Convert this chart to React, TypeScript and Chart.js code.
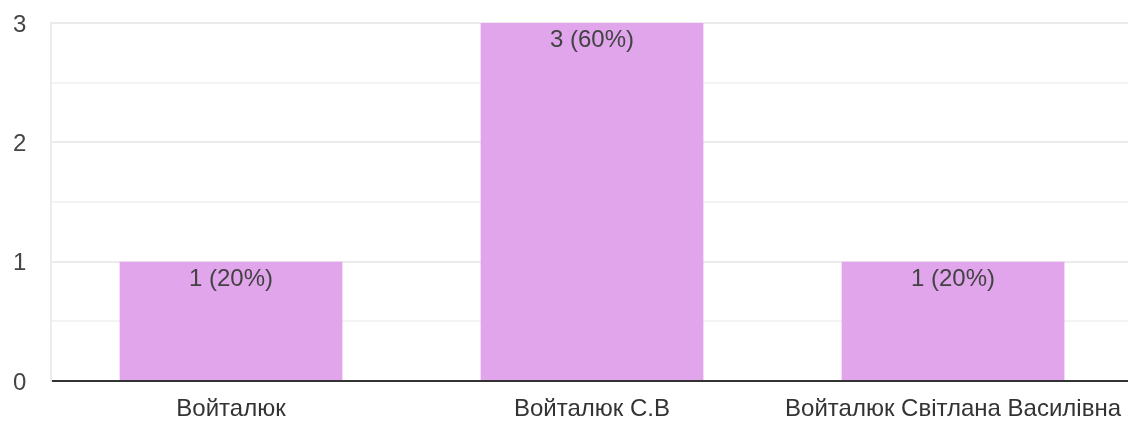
import React, { useEffect, useRef } from "react";
import { Chart, registerables } from "chart.js";

Chart.register(...registerables);

const categories = ["Войталюк", "Войталюк С.В", "Войталюк Світлана Василівна"];
const counts = [1, 3, 1];
const yTickValues = [0, 1, 2, 3];

const FONT = "Arial, 'Liberation Sans', sans-serif";

const barLabelPlugin = {
  id: "barLabels",
  afterDatasetsDraw(chart: any) {
    const ctx = chart.ctx;
    const meta = chart.getDatasetMeta(0);
    const data = chart.data.datasets[0].data as number[];
    const total = data.reduce((a, b) => a + b, 0);
    ctx.save();
    ctx.font = `24px ${FONT}`;
    ctx.fillStyle = "#424242";
    ctx.textAlign = "center";
    ctx.textBaseline = "alphabetic";
    meta.data.forEach((bar: any, i: number) => {
      const v = data[i];
      const pct = Math.round((v / total) * 100);
      ctx.fillText(`${v} (${pct}%)`, bar.x, bar.y + 24);
    });
    ctx.restore();
  },
};

export default function App() {
  const ref = useRef<HTMLCanvasElement>(null);
  useEffect(() => {
    if (!ref.current) return;
    const chart = new Chart(ref.current, {
      type: "bar",
      data: {
        labels: categories,
        datasets: [
          {
            data: counts,
            backgroundColor: "#e1a5eb",
            borderWidth: 0,
            categoryPercentage: 1,
            barPercentage: 0.617,
          },
        ],
      },
      options: {
        responsive: false,
        animation: false,
        layout: { padding: { left: 13, top: 23, right: 0, bottom: 0 } },
        plugins: { legend: { display: false }, tooltip: { enabled: false } },
        scales: {
          x: {
            grid: { display: false, drawTicks: false },
            border: { display: true, color: "#333333", width: 2 },
            ticks: {
              color: "#333333",
              font: { family: FONT, size: 24 },
              padding: 14,
              maxRotation: 0,
              autoSkip: false,
            },
            afterFit: (s: any) => {
              s.height = 40;
            },
          },
          y: {
            min: 0,
            max: 3,
            ticks: {
              stepSize: 0.5,
              color: "#444444",
              font: { family: FONT, size: 24 },
              crossAlign: "far",
              padding: 0,
              labelOffset: 2,
              callback: (v: any) => (yTickValues.includes(Number(v)) ? String(v) : ""),
            },
            grid: {
              drawTicks: false,
              lineWidth: 2,
              color: (c: any) => {
                const v = c.tick ? c.tick.value : 0;
                if (v === 0) return "rgba(0,0,0,0)";
                return Number.isInteger(v) ? "#ebebeb" : "#f3f3f3";
              },
            },
            border: { display: true, color: "#ebebeb", width: 2 },
            afterFit: (s: any) => {
              s.width = 37.5;
            },
          },
        },
      },
      plugins: [barLabelPlugin],
    });
    return () => chart.destroy();
  }, []);
  return (
    <div
      style={{
        position: "fixed",
        left: 0,
        top: 0,
        width: 1128,
        height: 421,
        overflow: "hidden",
        background: "#fff",
      }}
    >
      <canvas ref={ref} width={1135} height={421} />
    </div>
  );
}
